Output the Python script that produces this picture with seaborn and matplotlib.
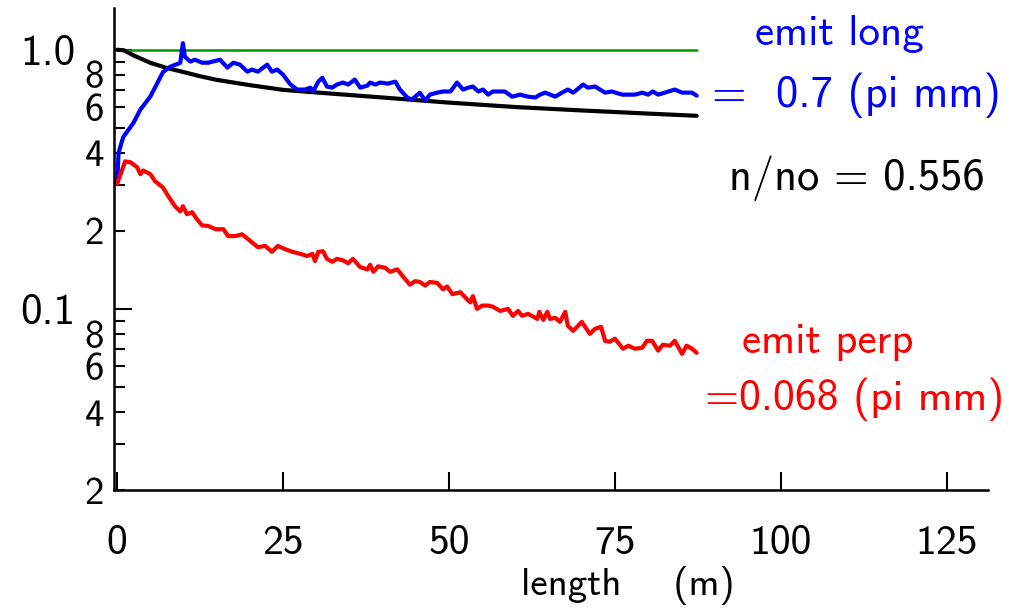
import numpy as np
import pandas as pd
import matplotlib
matplotlib.use("Agg")
import matplotlib.pyplot as plt
import seaborn as sns
from matplotlib.ticker import FixedLocator, FixedFormatter, NullFormatter

# values (length in m)
green_x = [0.0, 87.3]
green_y = [1.0, 1.0]

# n/no
black_x = [0, 1, 2.5, 5, 7.5, 10, 12.5, 15, 20, 25, 30, 40, 50, 60, 70, 80, 87.3]
black_y = [1.0, 0.995, 0.95, 0.89, 0.85, 0.82, 0.79, 0.765, 0.73, 0.70, 0.684,
           0.654, 0.625, 0.601, 0.583, 0.567, 0.556]

# emit long
blue_x = [0, 0.2, 0.9, 2.4, 3.5, 5.0, 6.0, 6.9, 8.0, 9.5, 9.9, 10.2, 11.0, 11.7,
          12.8, 13.7, 15.5, 16.6, 17.5, 18.5, 19.6, 20.3, 21.2, 22.6, 23.3, 24.1,
          25.0, 26.1, 27.1, 28.3, 29.1, 29.5, 30.3, 30.9, 31.6, 32.4, 33.1, 34.0,
          34.8, 35.8, 36.6, 37.7, 38.1, 38.9, 39.6, 40.8, 41.9, 42.6, 43.7, 44.4,
          44.9, 45.6, 46.4, 47.1, 48.2, 49.1, 50.2, 51.2, 52.1, 52.9, 53.6, 54.4,
          55.1, 55.9, 56.6, 57.7, 58.4, 59.5, 60.7, 61.9, 63.0, 63.7, 64.5, 66.0,
          67.0, 67.9, 68.7, 70.2, 70.9, 72.0, 73.5, 74.5, 76.1, 78.0, 79.1, 80.0,
          80.7, 81.5, 82.5, 84.0, 85.1, 86.6, 87.3]
blue_y = [0.305, 0.40, 0.46, 0.52, 0.588, 0.66, 0.74, 0.82, 0.86, 0.89, 1.06, 0.94,
          0.90, 0.915, 0.891, 0.891, 0.915, 0.853, 0.891, 0.876, 0.823, 0.838, 0.823,
          0.876, 0.823, 0.838, 0.801, 0.734, 0.702, 0.702, 0.714, 0.690, 0.753, 0.780,
          0.721, 0.714, 0.734, 0.747, 0.734, 0.767, 0.714, 0.727, 0.747, 0.734, 0.747,
          0.740, 0.753, 0.702, 0.654, 0.642, 0.659, 0.683, 0.636, 0.671, 0.683, 0.690,
          0.690, 0.747, 0.702, 0.714, 0.721, 0.690, 0.702, 0.671, 0.690, 0.690, 0.690,
          0.659, 0.671, 0.659, 0.654, 0.671, 0.683, 0.659, 0.683, 0.702, 0.683, 0.734,
          0.714, 0.721, 0.683, 0.690, 0.671, 0.671, 0.683, 0.671, 0.690, 0.671, 0.683,
          0.702, 0.683, 0.683, 0.665]

# emit perp
red_x = [0, 0.6, 1.2, 2.0, 3.0, 3.5, 3.9, 5.0, 5.7, 6.9, 7.7, 8.7, 9.5, 9.9, 10.5,
         11.3, 12.0, 12.8, 13.7, 14.8, 16.0, 16.7, 17.8, 18.8, 19.7, 21.2, 22.3, 23.3,
         24.2, 25.3, 26.4, 27.6, 28.6, 29.4, 29.8, 30.3, 31.0, 31.6, 32.4, 33.1, 34.0,
         34.8, 35.5, 36.6, 37.7, 38.1, 38.6, 39.3, 40.4, 41.1, 42.2, 43.1, 44.1, 44.9,
         45.6, 46.4, 47.1, 48.2, 49.1, 49.7, 50.5, 51.7, 52.7, 53.2, 53.6, 54.2, 55.0,
         55.9, 56.6, 57.7, 58.9, 59.6, 60.4, 61.0, 61.9, 63.3, 63.6, 64.2, 64.8, 65.2,
         66.0, 66.7, 67.5, 67.9, 68.7, 70.0, 71.2, 72.0, 72.9, 73.5, 74.2, 75.0, 76.2,
         77.0, 78.0, 79.1, 79.8, 80.6, 81.5, 82.2, 83.3, 84.0, 85.1, 85.8, 86.6, 87.3]
red_y = [0.305, 0.336, 0.371, 0.368, 0.352, 0.331, 0.342, 0.331, 0.311, 0.294, 0.272,
         0.249, 0.238, 0.249, 0.232, 0.236, 0.222, 0.210, 0.209, 0.203, 0.203, 0.191,
         0.191, 0.194, 0.186, 0.173, 0.175, 0.166, 0.175, 0.170, 0.166, 0.163, 0.160,
         0.163, 0.153, 0.166, 0.167, 0.156, 0.152, 0.156, 0.154, 0.150, 0.156, 0.145,
         0.142, 0.148, 0.139, 0.146, 0.144, 0.139, 0.142, 0.133, 0.124, 0.128, 0.127,
         0.123, 0.127, 0.126, 0.119, 0.122, 0.114, 0.116, 0.109, 0.106, 0.112, 0.100,
         0.103, 0.103, 0.102, 0.0982, 0.100, 0.0940, 0.0982, 0.0940, 0.0957, 0.0915,
         0.0974, 0.0907, 0.0974, 0.0915, 0.0923, 0.0891, 0.0974, 0.0860, 0.0823, 0.0891,
         0.0801, 0.0838, 0.0853, 0.0753, 0.0747, 0.0767, 0.0702, 0.0721, 0.0702, 0.0708,
         0.0753, 0.0753, 0.0690, 0.0727, 0.0721, 0.0753, 0.0671, 0.0721, 0.0702, 0.0677]

x_ticks = [0, 25, 50, 75, 100, 125]
y_major = [0.1, 1.0]
y_major_labels = ["0.1", "1.0"]
y_minor = [0.02, 0.03, 0.04, 0.05, 0.06, 0.07, 0.08, 0.09,
           0.2, 0.3, 0.4, 0.5, 0.6, 0.7, 0.8, 0.9]
y_minor_labels = ["2", "", "4", "", "6", "", "8", "",
                  "2", "", "4", "", "6", "", "8", ""]

sns.set_style("ticks")
plt.rcParams["font.family"] = ["cmss10", "DejaVu Sans"]
plt.rcParams["axes.unicode_minus"] = False
plt.rcParams["text.color"] = "black"
plt.rcParams["axes.labelcolor"] = "black"
plt.rcParams["axes.edgecolor"] = "black"
plt.rcParams["xtick.color"] = "black"
plt.rcParams["ytick.color"] = "black"

fig = plt.figure(figsize=(10.26, 6.08), dpi=100)
ax = fig.add_axes([0.111, 0.194, 0.852, 0.793])

series = [
    (green_x, green_y, "#009a00", 1.8),
    (black_x, black_y, "black", 3.0),
    (blue_x, blue_y, "#0000ff", 3.0),
    (red_x, red_y, "#ff0000", 3.0),
]
for xs, ys, col, lw in series:
    df = pd.DataFrame({"length": xs, "value": ys})
    sns.lineplot(data=df, x="length", y="value", color=col, lw=lw,
                 estimator=None, sort=False, ax=ax)

ax.set_yscale("log")
ax.set_xlim(-0.5, 131.2)
ax.set_ylim(0.02, 1.45)

ax.set_xticks(x_ticks)
ax.set_xticklabels([str(t) for t in x_ticks])
ax.yaxis.set_major_locator(FixedLocator(y_major))
ax.yaxis.set_major_formatter(FixedFormatter(y_major_labels))
ax.yaxis.set_minor_locator(FixedLocator(y_minor))
ax.yaxis.set_minor_formatter(FixedFormatter(y_minor_labels))
ax.xaxis.set_minor_formatter(NullFormatter())

for s in ["top", "right"]:
    ax.spines[s].set_visible(False)
for s in ["left", "bottom"]:
    ax.spines[s].set_linewidth(1.8)

ax.tick_params(axis="x", which="major", direction="in", length=13, width=1.5,
               pad=25, labelsize=30, colors="black")
ax.tick_params(axis="y", which="major", direction="in", length=13, width=1.5,
               pad=28, labelsize=31, colors="black")
ax.tick_params(axis="y", which="minor", direction="in", length=8, width=1.5,
               pad=7, labelsize=28, colors="black")

ax.set_xlabel("length    (m)", fontsize=28, color="black")
ax.set_ylabel("")
ax.xaxis.set_label_coords(0.588, -0.158)

fig.text(0.736, 0.926, "emit long", color="#0000ff", fontsize=31)
fig.text(0.694, 0.824, "=  0.7 (pi mm)", color="#0000ff", fontsize=32)
fig.text(0.711, 0.6875, "n/no = 0.556", color="black", fontsize=32)
fig.text(0.723, 0.419, "emit perp", color="#ff0000", fontsize=31)
fig.text(0.687, 0.326, "=0.068 (pi mm)", color="#ff0000", fontsize=31.5)

fig.savefig("out.png", dpi=100)
